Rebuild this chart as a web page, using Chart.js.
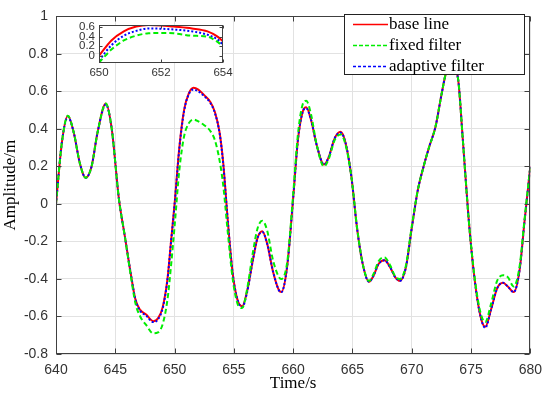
<!DOCTYPE html>
<html><head><meta charset="utf-8">
<script src="https://cdn.jsdelivr.net/npm/chart.js@4.4.1/dist/chart.umd.min.js"></script>
<style>
html,body{margin:0;padding:0;background:#fff;}
#wrap{position:relative;width:550px;height:398px;overflow:hidden;}
#main{position:absolute;left:0;top:0;}
#inset{position:absolute;left:70px;top:14px;}
</style></head><body>
<div id="wrap">
<canvas id="main" width="550" height="398"></canvas>
<canvas id="inset" width="170" height="72"></canvas>
</div>
<script>
// ---------- data ----------
const time = [640.0,640.5,641.0,641.5,642.0,642.5,643.0,643.5,644.2,644.7,645.3,645.8,646.3,646.7,647.1,647.6,648.2,648.6,649.0,649.4,649.7,
  650.0,650.4,650.8,651.2,651.6,652.0,652.5,653.0,653.4,653.8,654.1,654.5,654.9,655.3,655.7,656.1,656.6,657.0,657.4,657.8,658.3,658.8,659.0,659.5,
  660.0,660.4,660.8,661.1,661.5,662.0,662.6,663.0,663.5,664.0,664.4,664.9,665.4,665.9,666.4,666.8,667.2,667.7,668.2,668.6,669.0,669.5,
  670.0,670.5,671.0,671.5,672.0,672.5,672.9,673.4,673.9,674.3,674.8,675.3,675.8,676.2,676.7,677.2,677.7,678.1,678.6,679.1,679.5,680.0];
const baseLine = [0.00,0.33,0.47,0.38,0.22,0.14,0.20,0.38,0.535,0.40,0.03,-0.17,-0.37,-0.51,-0.565,-0.59,-0.625,-0.61,-0.55,-0.40,-0.20,
  0.00,0.30,0.50,0.59,0.62,0.61,0.58,0.545,0.49,0.38,0.22,-0.10,-0.37,-0.51,-0.545,-0.47,-0.30,-0.18,-0.145,-0.21,-0.36,-0.46,-0.47,-0.33,
  0.03,0.34,0.49,0.515,0.45,0.31,0.21,0.25,0.35,0.385,0.33,0.15,-0.135,-0.33,-0.415,-0.38,-0.32,-0.30,-0.34,-0.39,-0.41,-0.34,
  -0.13,0.07,0.20,0.31,0.41,0.58,0.70,0.74,0.67,0.35,-0.08,-0.40,-0.60,-0.655,-0.56,-0.45,-0.42,-0.44,-0.47,-0.35,-0.10,0.20];
const fixedFilter = [0.00,0.33,0.47,0.38,0.22,0.14,0.20,0.38,0.535,0.40,0.03,-0.17,-0.38,-0.53,-0.60,-0.645,-0.69,-0.685,-0.64,-0.51,-0.33,
  -0.12,0.18,0.36,0.43,0.45,0.44,0.42,0.39,0.34,0.23,0.10,-0.16,-0.40,-0.53,-0.555,-0.46,-0.26,-0.13,-0.09,-0.14,-0.30,-0.39,-0.40,-0.31,
  0.05,0.37,0.53,0.55,0.48,0.31,0.20,0.24,0.34,0.37,0.32,0.15,-0.13,-0.33,-0.41,-0.37,-0.305,-0.285,-0.33,-0.385,-0.40,-0.33,
  -0.12,0.07,0.20,0.31,0.41,0.58,0.70,0.74,0.67,0.35,-0.08,-0.39,-0.58,-0.63,-0.53,-0.41,-0.38,-0.39,-0.44,-0.33,-0.09,0.20];
const adaptiveFilter = [0.00,0.33,0.465,0.38,0.22,0.14,0.20,0.38,0.53,0.40,0.03,-0.17,-0.37,-0.51,-0.57,-0.595,-0.63,-0.615,-0.555,-0.405,-0.205,
  -0.005,0.295,0.495,0.585,0.61,0.60,0.575,0.54,0.485,0.375,0.215,-0.10,-0.37,-0.51,-0.55,-0.475,-0.30,-0.18,-0.15,-0.21,-0.36,-0.46,-0.47,-0.33,
  0.03,0.34,0.49,0.51,0.45,0.31,0.21,0.25,0.35,0.38,0.33,0.15,-0.135,-0.33,-0.415,-0.38,-0.32,-0.30,-0.34,-0.39,-0.41,-0.34,
  -0.13,0.07,0.20,0.31,0.41,0.58,0.70,0.735,0.67,0.35,-0.08,-0.40,-0.60,-0.66,-0.56,-0.45,-0.42,-0.44,-0.47,-0.35,-0.10,0.20];
const xTicks = [640,645,650,655,660,665,670,675,680];
const yTicks = [-0.8,-0.6,-0.4,-0.2,0,0.2,0.4,0.6,0.8,1];
const seriesNames = ['base line','fixed filter','adaptive filter'];

// inset (zoomed view 650-654 s)
const insetTime = [650.0,650.4,650.8,651.2,651.6,652.0,652.4,653.0,653.5,653.8,654.0];
const insetBase = [0.00,0.32,0.51,0.61,0.645,0.635,0.61,0.57,0.51,0.41,0.30];
const insetFixed = [-0.14,0.13,0.32,0.42,0.47,0.475,0.47,0.42,0.40,0.30,0.20];
const insetAdaptive = [-0.095,0.22,0.42,0.52,0.57,0.565,0.55,0.51,0.44,0.35,0.23];
const insetXTicks = [650,652,654];
const insetYTicks = [0,0.2,0.4,0.6];

// ---------- styles ----------
const RED = '#ff0000', GREEN = '#00ee00', BLUE = '#0000ff';
const AXIS = '#404040', GRID = '#e2e2e2', LABEL = '#333333';
const SANS = '"Liberation Sans", Arial, sans-serif';
const SERIF = '"Liberation Serif", "Times New Roman", serif';

function pts(xs, ys){ return xs.map((x,i)=>({x:x, y:ys[i]})); }
function fmt(v){ return String(+(+v).toFixed(1)); }

const frameLegendPlugin = {
  id:'frameLegend',
  afterDraw(chart){
    const {ctx, chartArea:ca, scales} = chart;
    const L = Math.round(ca.left)+0.5, R = Math.round(ca.right)-0.5, T = Math.round(ca.top)+0.5, B = Math.round(ca.bottom)-0.5;
    ctx.save();
    ctx.strokeStyle = AXIS; ctx.lineWidth = 1;
    ctx.strokeRect(L, T, R-L, B-T);
    ctx.beginPath();
    xTicks.forEach(v=>{ const p = Math.round(scales.x.getPixelForValue(v))+0.5;
      ctx.moveTo(p,B); ctx.lineTo(p,B-5); ctx.moveTo(p,T); ctx.lineTo(p,T+5); });
    yTicks.forEach(v=>{ const p = Math.round(scales.y.getPixelForValue(v))+0.5;
      ctx.moveTo(L,p); ctx.lineTo(L+5,p); ctx.moveTo(R,p); ctx.lineTo(R-5,p); });
    ctx.stroke();
    // legend box
    const bx = 344.5, by = 14.5, bw = 180, bh = 60;
    ctx.fillStyle = '#fff'; ctx.fillRect(bx, by, bw, bh);
    ctx.strokeStyle = '#222'; ctx.strokeRect(bx, by, bw, bh);
    const styles = [[RED,[]],[GREEN,[4,2]],[BLUE,[3,2]]];
    const rows = [24.5, 45.5, 66.5];
    ctx.font = '17px ' + SERIF; ctx.textBaseline = 'middle'; ctx.textAlign = 'left';
    seriesNames.forEach((n,i)=>{
      ctx.beginPath(); ctx.setLineDash(styles[i][1]); ctx.strokeStyle = styles[i][0]; ctx.lineWidth = 1.5;
      ctx.moveTo(353, rows[i]); ctx.lineTo(388, rows[i]); ctx.stroke();
      ctx.setLineDash([]);
      ctx.fillStyle = '#000'; ctx.fillText(n, 389, rows[i]);
    });
    ctx.restore();
  }
};

new Chart(document.getElementById('main'), {
  type:'line',
  data:{ datasets:[
    {label:seriesNames[0], data:pts(time, baseLine), borderColor:RED, borderWidth:2, pointRadius:0, order:3},
    {label:seriesNames[1], data:pts(time, fixedFilter), borderColor:GREEN, borderWidth:2, borderDash:[5,3], pointRadius:0, order:1},
    {label:seriesNames[2], data:pts(time, adaptiveFilter), borderColor:BLUE, borderWidth:2, borderDash:[2,2], pointRadius:0, order:2}
  ]},
  options:{
    responsive:false, animation:false, devicePixelRatio:1,
    layout:{padding:{left:0, top:12, right:16, bottom:0}},
    plugins:{legend:{display:false}, tooltip:{enabled:false}},
    elements:{line:{cubicInterpolationMode:'monotone'}},
    scales:{
      x:{type:'linear', min:640, max:680,
        afterBuildTicks:s=>{ s.ticks = xTicks.map(v=>({value:v})); },
        afterFit:s=>{ s.height = 44; },
        grid:{color:GRID, drawTicks:false}, border:{display:false},
        ticks:{padding:8, color:LABEL, font:{family:SANS, size:14}, maxRotation:0, autoSkip:false},
        title:{display:true, text:'Time/s', color:'#000', font:{family:SERIF, size:17}, padding:{top:0,bottom:4}}
      },
      y:{type:'linear', min:-0.8, max:1,
        afterBuildTicks:s=>{ s.ticks = yTicks.map(v=>({value:v})); },
        afterFit:s=>{ s.width = 56; },
        grid:{color:GRID, drawTicks:false}, border:{display:false},
        ticks:{padding:8, color:LABEL, font:{family:SANS, size:14}, callback:v=>fmt(v), autoSkip:false},
        title:{display:true, text:'Amplitude/m', color:'#000', font:{family:SERIF, size:17}, padding:{top:0,bottom:0}}
      }
    }
  },
  plugins:[frameLegendPlugin]
});

const insetPlugin = {
  id:'insetFrame',
  beforeDatasetsDraw(chart){
    const {ctx, chartArea:ca} = chart;
    ctx.save(); ctx.fillStyle='#fff'; ctx.fillRect(ca.left, ca.top, ca.right-ca.left, ca.bottom-ca.top); ctx.restore();
  },
  afterDraw(chart){
    const {ctx, chartArea:ca, scales} = chart;
    const L = Math.round(ca.left)+0.5, R = Math.round(ca.right)-0.5, T = Math.round(ca.top)+0.5, B = Math.round(ca.bottom)-0.5;
    ctx.save(); ctx.strokeStyle = AXIS; ctx.lineWidth = 1;
    ctx.strokeRect(L, T, R-L, B-T);
    ctx.beginPath();
    insetXTicks.forEach(v=>{ const p = Math.round(scales.x.getPixelForValue(v))+0.5;
      ctx.moveTo(p,B); ctx.lineTo(p,B-3); ctx.moveTo(p,T); ctx.lineTo(p,T+3); });
    insetYTicks.forEach(v=>{ const p = Math.round(scales.y.getPixelForValue(v))+0.5;
      ctx.moveTo(L,p); ctx.lineTo(L+3,p); ctx.moveTo(R,p); ctx.lineTo(R-3,p); });
    ctx.stroke(); ctx.restore();
  }
};

new Chart(document.getElementById('inset'), {
  type:'line',
  data:{ datasets:[
    {label:seriesNames[0], data:pts(insetTime, insetBase), borderColor:RED, borderWidth:2, pointRadius:0, order:3},
    {label:seriesNames[1], data:pts(insetTime, insetFixed), borderColor:GREEN, borderWidth:2, borderDash:[5,3], pointRadius:0, order:1},
    {label:seriesNames[2], data:pts(insetTime, insetAdaptive), borderColor:BLUE, borderWidth:2, borderDash:[2,2], pointRadius:0, order:2}
  ]},
  options:{
    responsive:false, animation:false, devicePixelRatio:1,
    layout:{padding:{left:0, top:7, right:17, bottom:0}},
    plugins:{legend:{display:false}, tooltip:{enabled:false}},
    elements:{line:{cubicInterpolationMode:'monotone'}},
    scales:{
      x:{type:'linear', min:650, max:654,
        afterBuildTicks:s=>{ s.ticks = insetXTicks.map(v=>({value:v})); },
        afterFit:s=>{ s.height = 23; },
        grid:{display:false, drawTicks:false}, border:{display:false},
        ticks:{padding:3, color:LABEL, font:{family:SANS, size:11.5}, maxRotation:0, autoSkip:false}
      },
      y:{type:'linear', min:-0.15, max:0.645,
        afterBuildTicks:s=>{ s.ticks = insetYTicks.map(v=>({value:v})); },
        afterFit:s=>{ s.width = 29; },
        grid:{display:false, drawTicks:false}, border:{display:false},
        ticks:{padding:4, color:LABEL, font:{family:SANS, size:11.5}, callback:v=>fmt(v), autoSkip:false}
      }
    }
  },
  plugins:[insetPlugin]
});
</script>
</body></html>
